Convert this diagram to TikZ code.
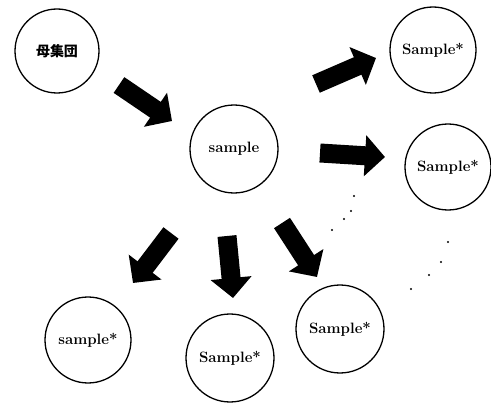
\documentclass[tikz,border=0pt]{standalone}
\usepackage{fontspec}
\newfontfamily\cjk{Noto Sans CJK JP}
\usepackage{tikz}
\usetikzlibrary{positioning, arrows.meta}

\begin{document}
\begin{tikzpicture}[
    x=1pt, y=-1pt,
    popcircle/.style={draw=black, line width=1.3pt, circle, minimum size=84pt, inner sep=0pt, font=\cjk\bfseries\fontsize{14}{16}\selectfont},
    smpcircle/.style={draw=black, line width=1.3pt, circle, minimum size=86pt, inner sep=0pt, font=\bfseries\fontsize{15}{18}\selectfont},
    bigarrow/.style={line width=19pt, -{Triangle[length=20pt, width=40pt]}},
    dot/.style={fill=black}
]
\useasboundingbox (0,0) rectangle (491,404);

% Knoten
\node[popcircle] (pop) at (57,51) {母集団};
\node[smpcircle, minimum size=88pt] (smp) at (234,149) {sample};
\node[smpcircle] (r0) at (433,50) {Sample*};
\node[smpcircle] (r1) at (448,167) {Sample*};
\node[smpcircle] (b0) at (88,340) {sample*};
\node[smpcircle, minimum size=88pt] (b1) at (230,358) {Sample*};
\node[smpcircle, minimum size=88pt] (b2) at (340,329) {Sample*};

% Pfeile
\coordinate (a0s) at (119,85);    \coordinate (a0e) at (172,121);
\coordinate (a1s) at (316,84);    \coordinate (a1e) at (376,58);
\coordinate (a2s) at (320,153);   \coordinate (a2e) at (385,157);
\coordinate (a3s) at (171,233);   \coordinate (a3e) at (133,283);
\coordinate (a4s) at (227,236);   \coordinate (a4e) at (233,298);
\coordinate (a5s) at (282,223);   \coordinate (a5e) at (317,277);
\foreach \i in {0,...,5}
    \draw[bigarrow] (a\i s) -- (a\i e);

% Punkte
\foreach \p in {(354,196),(351,211),(344,219),(332,230),(448,242),(441,262),(429,275),(411,289)}
    \fill[dot] \p circle (1.2pt);

\end{tikzpicture}
\end{document}
